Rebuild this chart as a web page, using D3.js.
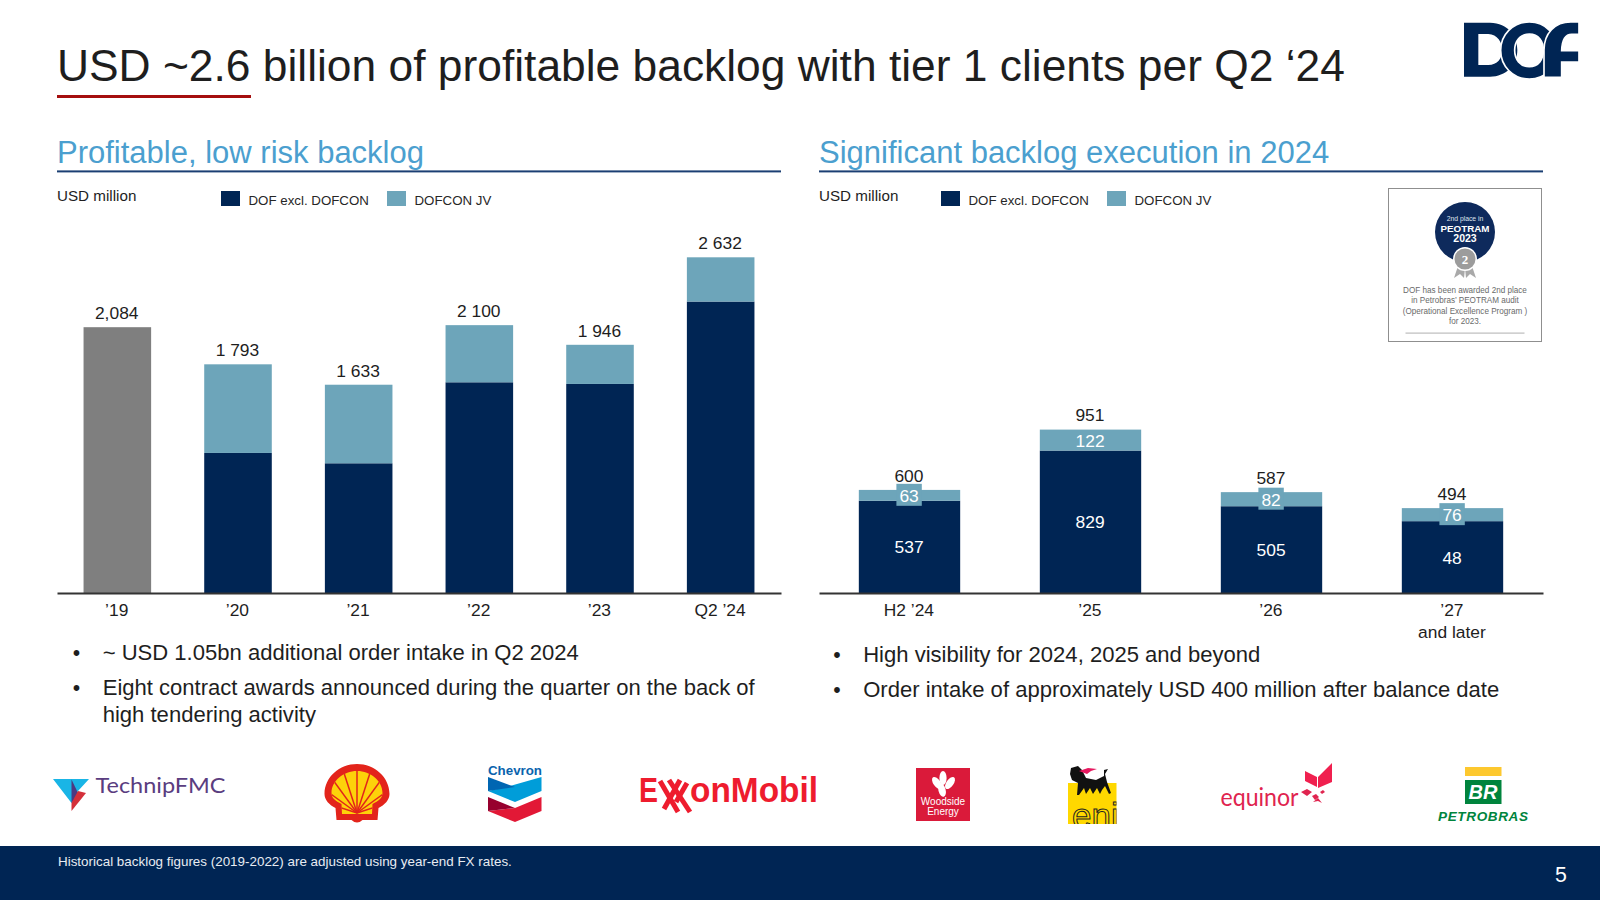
<!DOCTYPE html>
<html><head><meta charset="utf-8">
<script src="https://cdn.jsdelivr.net/npm/d3@7/dist/d3.min.js"></script>
<style>
html,body{margin:0;padding:0;background:#fff}
svg{display:block}
text{font-family:"Liberation Sans",Arial,sans-serif}
</style></head><body>
<svg id="c" width="1600" height="900" viewBox="0 0 1600 900"></svg>
<script>
// ---------- data ----------
const backlogCategories = ["’19","’20","’21","’22","’23","Q2 ’24"];
const backlogHistoric = [2084,0,0,0,0,0];
const backlogDof = [0,1098,1017,1652,1639,2285];
const backlogJv = [0,695,616,448,307,347];
const backlogTotals = ["2,084","1 793","1 633","2 100","1 946","2 632"];

const execCategories = ["H2 ’24","’25","’26","’27"];
const execCategoryNotes = ["","","","and later"];
const execDof = [537,829,505,418];
const execJv = [63,122,82,76];
const execDofLabels = ["537","829","505","48"];
const execJvLabels = ["63","122","82","76"];
const execTotals = ["600","951","587","494"];

const bulletsLeft = [["~ USD 1.05bn additional order intake in Q2 2024"],
  ["Eight contract awards announced during the quarter on the back of","high tendering activity"]];
const bulletsRight = [["High visibility for 2024, 2025 and beyond"],
  ["Order intake of approximately USD 400 million after balance date"]];
const peotramLines = ["DOF has been awarded 2nd place","in Petrobras’ PEOTRAM audit","(Operational Excellence Program )","for 2023."];

// ---------- styles ----------
const NAVY="#002554", JV="#6da5ba", GREY="#7f7f7f", HEAD="#4b9fcf", INK="#1e1e1e";
const svg=d3.select("#c");
const T=(g,x,y,s,size,fill,anchor)=>g.append("text").attr("x",x).attr("y",y).attr("font-size",size).attr("fill",fill||INK).attr("text-anchor",anchor||"start").text(s);

// ---------- header ----------
T(svg,57,81,"USD ~2.6 billion of profitable backlog with tier 1 clients per Q2 ‘24",44.35,INK);
svg.append("rect").attr("x",57).attr("y",95).attr("width",194).attr("height",3).attr("fill","#a50f0f");

// DOF logo
(function(){
  const g=svg.append("g").attr("transform","translate(1440,10) scale(0.3333)");
  g.append("path").attr("fill-rule","evenodd").attr("fill",NAVY)
   .attr("d","M72 38H150C205 38 232 80 232 120C232 165 198 200 150 200H72ZM115 72V165H145C172 165 187 145 187 120C187 98 172 72 145 72Z");
  g.append("path").attr("fill-rule","evenodd").attr("fill",NAVY).attr("stroke","#fff").attr("stroke-width",5)
   .attr("d","M268 36C318 36 352 75 352 121C352 168 318 207 268 207C218 207 182 168 182 121C182 75 218 36 268 36ZM268 72C240 72 224 94 224 121C224 148 240 170 268 170C296 170 310 148 310 121C310 94 296 72 268 72Z");
  g.append("path").attr("fill",NAVY).attr("stroke","#fff").attr("stroke-width",5)
   .attr("d","M312 202V120C312 70 345 36 392 36H417V73H395C375 73 366 92 365 122H417V156H365V202Z");
})();

// ---------- chart builder ----------
function panel(opts){
  const g=svg.append("g");
  T(g,opts.x0,163,opts.title,31,HEAD);
  g.append("rect").attr("x",opts.x0).attr("y",170.4).attr("width",opts.x1-opts.x0).attr("height",2).attr("fill","#1b3f73");
  T(g,opts.x0,201,"USD million",15.2,INK);
  opts.legend.forEach(l=>{
    g.append("rect").attr("x",l.x).attr("y",191).attr("width",19).attr("height",15).attr("fill",l.c);
    T(g,l.x+27.5,204.5,l.t,13.3,"#262626");
  });
  const x=d3.scaleBand().domain(opts.cats).range([opts.x0,opts.x1]).paddingInner(.44).paddingOuter(.22);
  const y=d3.scaleLinear().domain([0,opts.max]).range([593,opts.top]);
  const rows=opts.cats.map((c,i)=>{const r={cat:c};opts.series.forEach(s=>r[s.key]=s.values[i]);return r;});
  const stacked=d3.stack().keys(opts.series.map(s=>s.key))(rows);
  const col=Object.fromEntries(opts.series.map(s=>[s.key,s.color]));
  g.selectAll("g.s").data(stacked).join("g").attr("class","s").attr("fill",d=>col[d.key])
   .selectAll("rect").data(d=>d).join("rect")
   .attr("x",d=>x(d.data.cat)).attr("width",x.bandwidth())
   .attr("y",d=>y(d[1])).attr("height",d=>y(d[0])-y(d[1]));
  // axis
  const ax=g.append("g").attr("transform","translate(0,593)").call(d3.axisBottom(x).tickSize(0).tickPadding(0));
  ax.select(".domain").attr("stroke","#333").attr("stroke-width",2);
  ax.selectAll("text").attr("font-size",17.4).attr("fill",INK).attr("y",0).attr("dy",0)
    .attr("transform","translate(-0.6,23)").attr("font-family",'"Liberation Sans",Arial,sans-serif');
  (opts.notes||[]).forEach((n,i)=>{ if(n) T(g,x(opts.cats[i])+x.bandwidth()/2-0.6,637.7,n,17.4,INK,"middle"); });
  // totals
  opts.totals.forEach((t,i)=>{
    const sum=opts.series.reduce((a,s)=>a+s.values[i],0);
    T(g,x(opts.cats[i])+x.bandwidth()/2-0.6,y(sum)-8.2,t,17.4,INK,"middle");
  });
  return {g,x,y};
}

panel({x0:57,x1:781,title:"Profitable, low risk backlog",cats:backlogCategories,max:2632,top:257.3,
  legend:[{x:221,c:NAVY,t:"DOF excl. DOFCON"},{x:387,c:JV,t:"DOFCON JV"}],
  series:[{key:"h",values:backlogHistoric,color:GREY},{key:"d",values:backlogDof,color:NAVY},{key:"j",values:backlogJv,color:JV}],
  totals:backlogTotals});

const R=panel({x0:819,x1:1543,title:"Significant backlog execution in 2024",cats:execCategories,notes:execCategoryNotes,max:951,top:429.6,
  legend:[{x:941,c:NAVY,t:"DOF excl. DOFCON"},{x:1107,c:JV,t:"DOFCON JV"}],
  series:[{key:"d",values:execDof,color:NAVY},{key:"j",values:execJv,color:JV}],
  totals:execTotals});

// inner labels for right chart
execCategories.forEach((c,i)=>{
  const cx=R.x(c)+R.x.bandwidth()/2-0.4;
  const d=execDof[i], j=execJv[i];
  T(R.g,cx,R.y(d/2)+6.6,execDofLabels[i],17.4,"#fff","middle");
  const my=R.y(d+j/2);
  if(j<100) R.g.append("rect").attr("x",cx-12.7).attr("y",my-11.5).attr("width",25.4).attr("height",22).attr("fill",JV);
  T(R.g,cx,my+6.6,execJvLabels[i],17.4,"#fff","middle");
});

// ---------- bullets ----------
function bullets(list,bx,tx,ys){
  let k=0;
  list.forEach(lines=>{
    lines.forEach((l,i)=>{
      if(i===0) T(svg,bx,ys[k],"•",21.3,INK,"middle");
      T(svg,tx,ys[k],l,22.05,INK);k++;
    });
  });
}
bullets(bulletsLeft,76.5,102.7,[659.5,695,722]);
bullets(bulletsRight,837,863.2,[662,697]);

// ---------- PEOTRAM card ----------
(function(){
  const g=svg.append("g");
  g.append("rect").attr("x",1388.5).attr("y",188.5).attr("width",153).attr("height",153).attr("fill","#fff").attr("stroke","#8f8f8f").attr("stroke-width",1);
  g.append("circle").attr("cx",1465).attr("cy",232).attr("r",30).attr("fill","#0e2a5c");
  g.append("path").attr("fill","#a9a9a9").attr("d","M1458 266L1454 278L1460 274L1464 278L1465 268L1466 278L1470 274L1476 278L1472 266Z");
  g.append("circle").attr("cx",1465).attr("cy",259).attr("r",12).attr("fill","#fff");
  g.append("circle").attr("cx",1465).attr("cy",259).attr("r",10.5).attr("fill","#9c9c9c");
  T(g,1465,264,"2",13,"#fff","middle").attr("font-weight","bold").style("font-family","'Liberation Serif',serif");
  T(g,1465,221,"2nd place in",6.8,"#dfe4ee","middle");
  T(g,1465,232,"PEOTRAM",9.8,"#fff","middle").attr("font-weight","bold");
  T(g,1465,241.5,"2023",10.5,"#fff","middle").attr("font-weight","bold");
  peotramLines.forEach((l,i)=>T(g,1465,[293,303,313.5,324][i],l,8.15,"#6a6a6a","middle"));
  g.append("rect").attr("x",1405.5).attr("y",332.5).attr("width",119).attr("height",1.2).attr("fill","#bdbdbd");
})();

// ---------- client logos ----------
(function(){
  const g=svg.append("g");
  // TechnipFMC
  g.append("path").attr("fill","#19b5e6").attr("d","M53 779H89L78 791L71.5 803Z");
  g.append("path").attr("fill","#4c3a82").attr("d","M71.5 779.5L79 795L71.5 803Z");
  g.append("path").attr("fill","#d4303a").attr("d","M86 793L71.5 811V803L78 791Z");
  T(g,95.5,792.5,"TechnipFMC",20.5,"#5a3d80").style("font-family","Lato").attr("textLength",130).attr("lengthAdjust","spacingAndGlyphs");

  // Shell
  const s=g.append("g").attr("transform","translate(324.5,764)");
  s.append("path").attr("fill","#e3241b").attr("d","M32.5 0C50 0 65 13 65 30C65 36 60 41 54 44L53 56H38Q32.5 61 27 56H12L11 44C5 41 0 36 0 30C0 13 15 0 32.5 0Z");
  s.append("clipPath").attr("id","shellClip").append("path").attr("d","M32.5 7C46 7 58 17 58 29C58 34 54 37 48 40L47.5 50H17.5L17 40C11 37 7 34 7 29C7 17 19 7 32.5 7Z");
  s.append("path").attr("fill","#fdd20a").attr("d","M32.5 7C46 7 58 17 58 29C58 34 54 37 48 40L47.5 50H17.5L17 40C11 37 7 34 7 29C7 17 19 7 32.5 7Z");
  [-72,-54,-36,-18,0,18,36,54,72].forEach(a=>{
    const r=a*Math.PI/180;
    s.append("line").attr("x1",32.5).attr("y1",49).attr("x2",32.5+55*Math.sin(r)).attr("y2",49-55*Math.cos(r))
     .attr("stroke","#e3241b").attr("stroke-width",1.5).attr("clip-path","url(#shellClip)");
  });

  // Chevron
  T(g,515,775,"Chevron",13.5,"#0a63ad","middle").attr("font-weight","bold").attr("textLength",54).attr("lengthAdjust","spacingAndGlyphs");
  g.append("path").attr("fill","#009dd9").attr("d","M541.5 777V791L515 802L488 791L510 786Z");
  g.append("path").attr("fill","#0066b2").attr("d","M488 777L515 787L488 791Z");
  g.append("path").attr("fill","#e21836").attr("d","M488 797L515 808L541.5 797V811L515 822L488 811L515 808Z");
  g.append("path").attr("fill","#97002e").attr("d","M488 797L515 808L488 811Z");

  // ExxonMobil
  const EX="#ee1c2e";
  T(g,639,802,"E",35,EX).attr("font-weight","bold").attr("textLength",19).attr("lengthAdjust","spacingAndGlyphs");
  [[660,781,678,812],[680,780,664,809],[669,780,690,812],[687,783,676,802]].forEach(p=>{
    g.append("line").attr("x1",p[0]).attr("y1",p[1]).attr("x2",p[2]).attr("y2",p[3]).attr("stroke",EX).attr("stroke-width",5);
  });
  T(g,690,802,"onMobil",35,EX).attr("font-weight","bold").attr("textLength",128).attr("lengthAdjust","spacingAndGlyphs");

  // Woodside
  g.append("rect").attr("x",916).attr("y",768).attr("width",54).attr("height",53).attr("fill","#da1a3a");
  [[-35,937,783],[0,943,778],[35,950,783],[-15,942,790]].forEach(p=>{
    g.append("ellipse").attr("cx",p[1]).attr("cy",p[2]).attr("rx",3.6).attr("ry",7).attr("fill","#fff").attr("transform",`rotate(${p[0]} ${p[1]} ${p[2]})`);
  });
  T(g,943,804.7,"Woodside",10,"#fff","middle");
  T(g,943,814.7,"Energy",10,"#fff","middle");

  // eni
  g.append("rect").attr("x",1068).attr("y",783).attr("width",48.5).attr("height",41).attr("fill","#ffd800");
  g.append("path").attr("fill","#111").attr("d","M1071 768L1078 766L1082 770L1086 778L1096 780L1104 776L1104 770L1108 769L1105 774L1107 782L1111 793L1109 794L1105 786L1102 790L1100 794L1097 788L1093 794L1090 788L1086 794L1084 788L1079 795L1077 795L1078 783L1072 780L1070 774Z");
  g.append("path").attr("fill","#e6185f").attr("d","M1079 771L1088 768L1097 769L1091 771L1087 774Z");
  g.append("clipPath").attr("id","eniClip").append("rect").attr("x",1068).attr("y",783).attr("width",48.5).attr("height",41);
  T(g,1072,828,"eni",35,"none").attr("stroke","#222").attr("stroke-width",1).attr("clip-path","url(#eniClip)");

  // equinor
  T(g,1220.5,805.5,"equinor",25.5,"#e0244f").style("font-family","Lato").attr("textLength",78).attr("lengthAdjust","spacingAndGlyphs");
  g.append("path").attr("fill","#f0204f").attr("d","M1305 771L1317 777V787L1305 781ZM1318 777L1332 763V782L1318 788Z");
  g.append("path").attr("fill","#e0244f").attr("d","M1301 792L1307 789L1312 792L1307 796ZM1312 796L1316 794L1319 797L1315 800ZM1320 792L1323 790L1325 792L1322 794ZM1313 802L1318 798L1322 803L1318 801Z");

  // Petrobras
  g.append("rect").attr("x",1465).attr("y",767).attr("width",36.5).attr("height",9).attr("fill","#fdc82f");
  g.append("rect").attr("x",1465).attr("y",780).attr("width",36.5).attr("height",24).attr("fill","#00843d");
  T(g,1483,799,"BR",20,"#fff","middle").attr("font-weight","bold").attr("font-style","italic");
  T(g,1438,821.3,"PETROBRAS",13.5,"#00843d").attr("font-weight","bold").attr("font-style","italic").attr("textLength",90).attr("lengthAdjust","spacing");
})();

// ---------- footer ----------
svg.append("rect").attr("x",0).attr("y",846).attr("width",1600).attr("height",54).attr("fill",NAVY);
T(svg,58,866,"Historical backlog figures (2019-2022) are adjusted using year-end FX rates.",13.42,"#e8ecf2");
T(svg,1561,881.5,"5",21.3,"#fff","middle");
</script>
</body></html>
